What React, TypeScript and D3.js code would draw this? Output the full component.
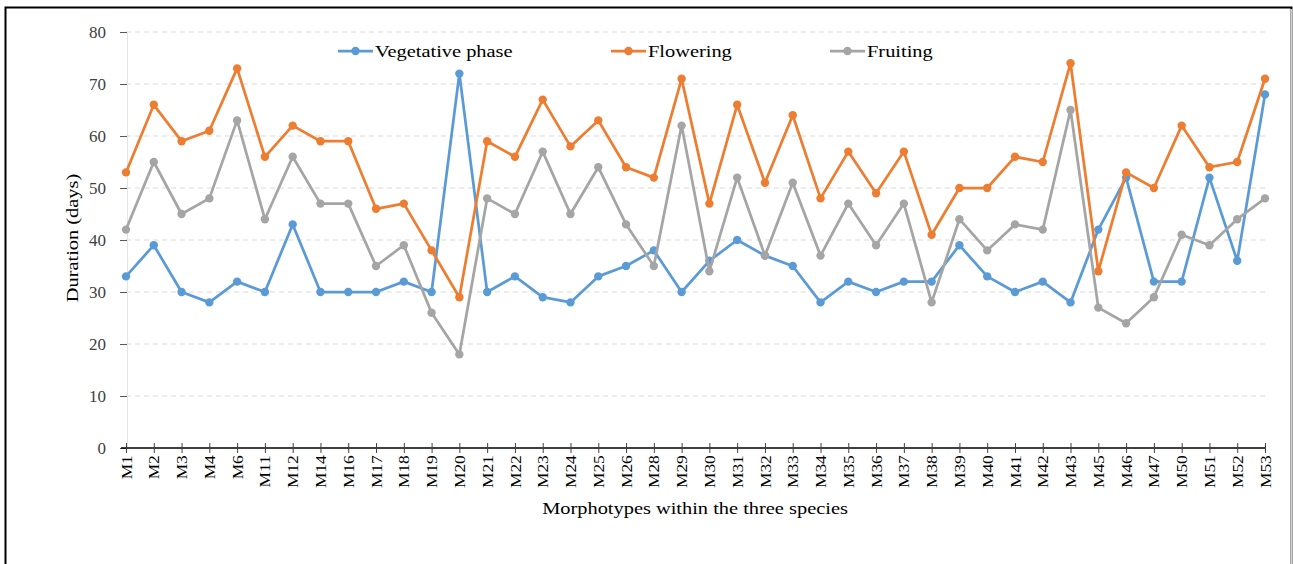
import React, { useEffect, useRef } from "react";
import * as d3 from "d3";

const categories = [
  "M1", "M2", "M3", "M4", "M6", "M11", "M12", "M14", "M16", "M17", "M18", "M19", "M20", "M21",
  "M22", "M23", "M24", "M25", "M26", "M28", "M29", "M30", "M31", "M32", "M33", "M34", "M35", "M36",
  "M37", "M38", "M39", "M40", "M41", "M42", "M43", "M45", "M46", "M47", "M50", "M51", "M52", "M53",
];

const vegetative = [
  33, 39, 30, 28, 32, 30, 43, 30, 30, 30, 32, 30, 72, 30,
  33, 29, 28, 33, 35, 38, 30, 36, 40, 37, 35, 28, 32, 30,
  32, 32, 39, 33, 30, 32, 28, 42, 52, 32, 32, 52, 36, 68,
];

const flowering = [
  53, 66, 59, 61, 73, 56, 62, 59, 59, 46, 47, 38, 29, 59,
  56, 67, 58, 63, 54, 52, 71, 47, 66, 51, 64, 48, 57, 49,
  57, 41, 50, 50, 56, 55, 74, 34, 53, 50, 62, 54, 55, 71,
];

const fruiting = [
  42, 55, 45, 48, 63, 44, 56, 47, 47, 35, 39, 26, 18, 48,
  45, 57, 45, 54, 43, 35, 62, 34, 52, 37, 51, 37, 47, 39,
  47, 28, 44, 38, 43, 42, 65, 27, 24, 29, 41, 39, 44, 48,
];

const yTicks = [0, 10, 20, 30, 40, 50, 60, 70, 80];

const series = [
  { name: "Vegetative phase", values: vegetative, color: "#5b9bd5", legendX: 338 },
  { name: "Flowering", values: flowering, color: "#ed7d31", legendX: 611 },
  { name: "Fruiting", values: fruiting, color: "#a5a5a5", legendX: 830 },
];

const W = 1293;
const H = 564;
const FONT = "'Liberation Serif', 'Times New Roman', serif";
// the reference's type is a bit wider than Liberation Serif
const STRETCH = 1.2;

const App = () => {
  const ref = useRef<SVGGElement>(null);

  useEffect(() => {
    const g = d3.select(ref.current);
    g.selectAll("*").remove();

    const x = d3.scalePoint().domain(categories).range([126, 1265]);
    const y = d3.scaleLinear().domain([0, 80]).range([448, 32]);

    // frame
    g.append("rect")
      .attr("x", 5.5).attr("y", 7.5)
      .attr("width", 1286).attr("height", 600)
      .attr("fill", "white")
      .attr("stroke", "#000").attr("stroke-width", 2);
    g.append("line")
      .attr("x1", 1291.5).attr("x2", 1291.5).attr("y1", 9).attr("y2", H)
      .attr("stroke", "#d0d0d0").attr("stroke-width", 2);

    // gridlines
    g.append("g")
      .selectAll("line")
      .data(yTicks.filter(d => d > 0))
      .join("line")
      .attr("x1", 126).attr("x2", 1265)
      .attr("y1", d => y(d)).attr("y2", d => y(d))
      .attr("stroke", "#d9d9d9")
      .attr("stroke-dasharray", "5,4");

    // y axis
    const yAxis = g.append("g")
      .attr("transform", "translate(127,0)")
      .call(d3.axisLeft(y).tickValues(yTicks).tickSize(7).tickPadding(14));
    yAxis.select(".domain").attr("stroke", "#e4e4e4");
    yAxis.selectAll(".tick line").attr("stroke", "#595959");
    yAxis.selectAll("text")
      .attr("font-family", FONT).attr("font-size", 17).attr("fill", "#404040");

    // x axis
    const xAxis = g.append("g")
      .attr("transform", "translate(0,448)")
      .call(d3.axisBottom(x).tickSize(5).tickSizeOuter(0));
    xAxis.select(".domain").attr("stroke", "#000").attr("stroke-width", 1.5)
      .attr("d", "M121,0H1265");
    xAxis.selectAll(".tick line").attr("y1", -5).attr("stroke", "#404040");
    xAxis.selectAll("text")
      .attr("font-family", FONT).attr("font-size", 14.5).attr("fill", "#000")
      .attr("transform", `rotate(-90) scale(${STRETCH},1)`)
      .attr("text-anchor", "end")
      .attr("x", -6).attr("y", 0).attr("dy", "0.35em");

    // lines & markers
    const line = d3.line<number>()
      .x((d, i) => x(categories[i]) as number)
      .y(d => y(d));

    series.forEach(s => {
      g.append("path")
        .datum(s.values)
        .attr("fill", "none")
        .attr("stroke", s.color)
        .attr("stroke-width", 2.75)
        .attr("stroke-linejoin", "round")
        .attr("d", line);
      g.append("g")
        .selectAll("circle")
        .data(s.values)
        .join("circle")
        .attr("cx", (d, i) => x(categories[i]) as number)
        .attr("cy", d => y(d))
        .attr("r", 4.2)
        .attr("fill", s.color);
    });

    // legend
    const legend = g.append("g").attr("transform", "translate(0,51)");
    series.forEach(s => {
      legend.append("line")
        .attr("x1", s.legendX).attr("x2", s.legendX + 35)
        .attr("stroke", s.color).attr("stroke-width", 2.75);
      legend.append("circle")
        .attr("cx", s.legendX + 17.5).attr("r", 4.2).attr("fill", s.color);
      legend.append("text")
        .attr("transform", `translate(${s.legendX + 37},0) scale(${STRETCH},1)`)
        .attr("dy", "0.35em")
        .attr("font-family", FONT).attr("font-size", 17).attr("fill", "#000")
        .text(s.name);
    });

    // axis titles
    g.append("text")
      .attr("transform", `translate(78,238) rotate(-90) scale(${STRETCH},1)`)
      .attr("text-anchor", "middle")
      .attr("font-family", FONT).attr("font-size", 17).attr("fill", "#000")
      .text("Duration (days)");
    g.append("text")
      .attr("transform", `translate(695,514) scale(${STRETCH},1)`)
      .attr("text-anchor", "middle")
      .attr("font-family", FONT).attr("font-size", 17).attr("fill", "#000")
      .text("Morphotypes within the three species");
  }, []);

  return (
    <svg width={W} height={H} style={{ position: "absolute", left: 0, top: 0, background: "#fff" }}>
      <g ref={ref} />
    </svg>
  );
};

export default App;
